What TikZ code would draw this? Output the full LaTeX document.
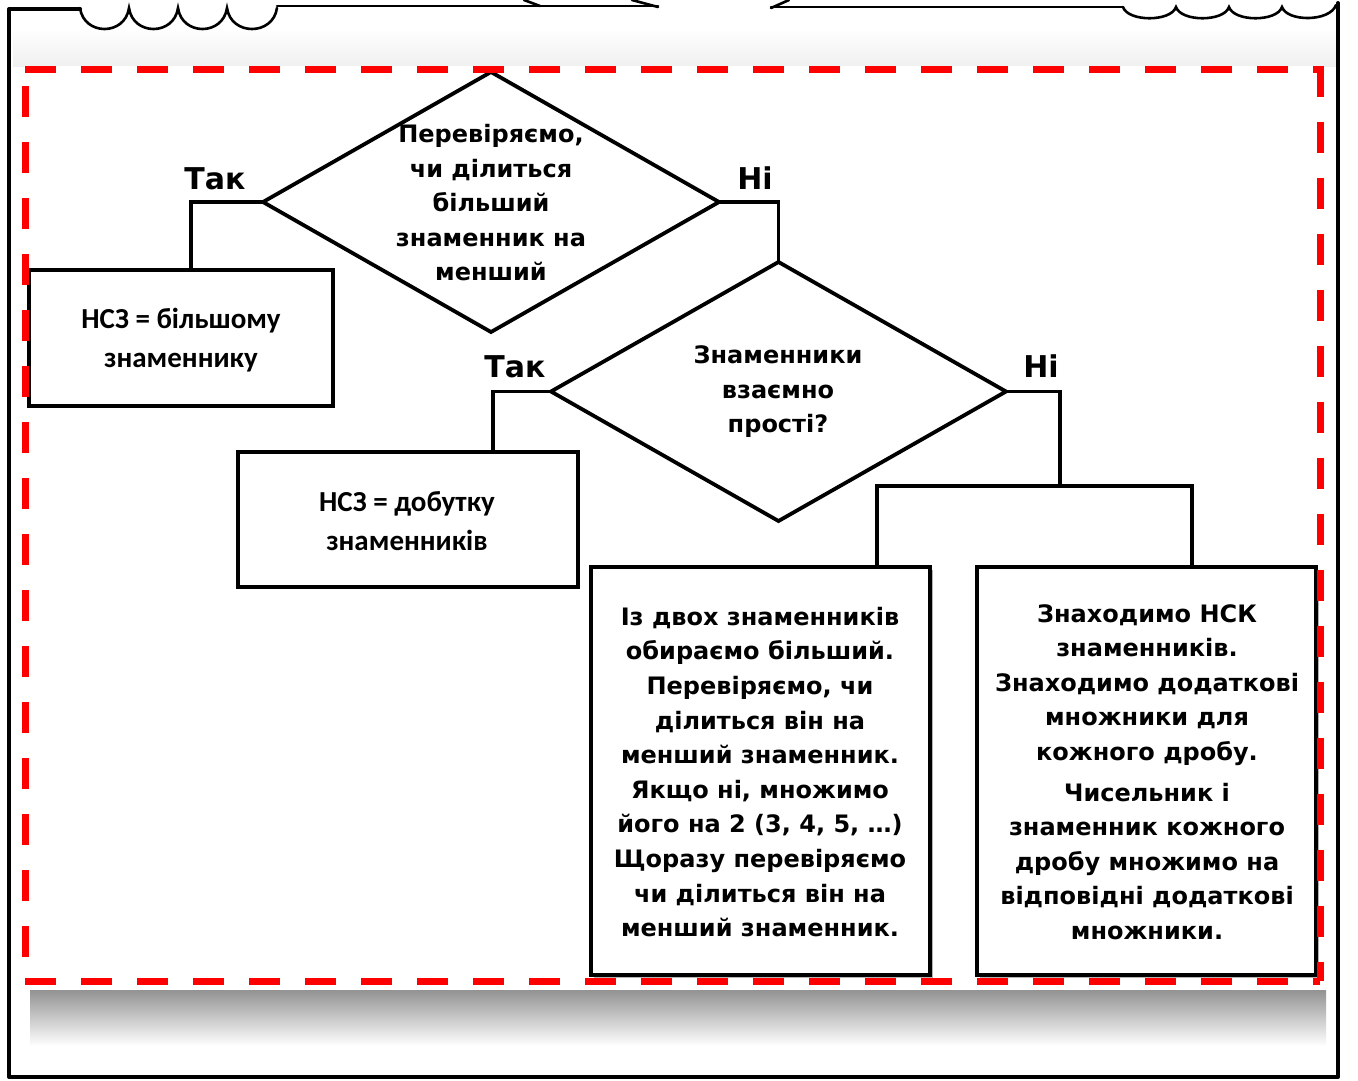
\documentclass[tikz,border=0pt]{standalone}
\usepackage{fontspec}
\setmainfont{DejaVu Sans}
\newfontfamily\carl{Carlito}
\usetikzlibrary{shapes.geometric}
\begin{document}
\begin{tikzpicture}[x=1pt,y=-1pt,
  every node/.style={inner sep=0pt, outer sep=0pt},
  conn/.style={line width=3.8pt, line join=miter},
  dia/.style={diamond, draw, line width=3.8pt, inner sep=0pt},
  dtext/.style={align=center, font=\bfseries\fontsize{24}{34.5}\selectfont},
  pbox/.style={draw, line width=3.8pt, fill=white},
  ctext/.style={align=center, font=\carl\bfseries\fontsize{29}{39.5}\selectfont},
  btext/.style={align=center, font=\bfseries\fontsize{24}{34.6}\selectfont},
  lbl/.style={anchor=base, font=\bfseries\fontsize{30}{34}\selectfont},
  frame/.style={line width=4pt, line cap=round, line join=round},
  deco/.style={line width=2.6pt, line cap=round}
]
\useasboundingbox (0,0) rectangle (1358,1080);
\fill[white] (0,0) rectangle (1358,1080);
% light top band and shadow below the panel
\shade[top color=white, bottom color=gray!12] (13,28) rectangle (1336,66);
\shade[top color=gray!85, bottom color=white] (30,990) rectangle (1326,1046);
\fill[white] (24,66) rectangle (1322,988);

% outer frame
\draw[frame] (80,9) -- (9,9) -- (9,1077) -- (1338,1077) -- (1338,3);
\draw[deco] (80,8) .. controls (84,36) and (125,36) .. (129,8)
  .. controls (133,36) and (174,36) .. (178,8)
  .. controls (182,36) and (223,36) .. (227,8)
  .. controls (231,36) and (273,36) .. (277,8);
\draw[deco] (277,6) -- (658,6);
\draw[deco] (524,0) -- (540,6);
\draw[deco] (632,0) -- (658,7);
\draw[deco] (771,8) -- (789,0);
\draw[deco] (771,7) -- (1123,7);
\draw[deco] (1123,7) .. controls (1128,22) and (1171,22) .. (1176,7)
  .. controls (1181,22) and (1224,22) .. (1229,7)
  .. controls (1234,22) and (1277,22) .. (1282,7)
  .. controls (1287,22) and (1330,22) .. (1336,5);

% decisions
\node[dia, minimum width=456pt, minimum height=260pt] (d1) at (491,202) {};
\node[dtext] (t1) at (491,203) {Перевіряємо,\\чи ділиться\\більший\\знаменник на\\менший};
\node[dia, minimum width=455pt, minimum height=259pt] (d2) at (778.5,391.5) {};
\node[dtext] (t2) at (778,392) {Знаменники\\взаємно\\прості?};

% boxes
\node[pbox, minimum width=304pt, minimum height=136pt] (b1) at (181,338) {};
\node[ctext] (bt1) at (181,340) {НСЗ = більшому\\знаменнику};
\node[pbox, minimum width=340pt, minimum height=135pt] (b2) at (408,519.5) {};
\node[ctext] (bt2) at (407,521) {НСЗ = добутку\\знаменників};

\fill[gray!60] (594,570) rectangle (933,978);
\fill[gray!60] (980,570) rectangle (1319,978);
\node[pbox, minimum width=339pt, minimum height=408pt] (b3) at (760.5,771) {};
\node[btext] (bt3) at (760,772) {Із двох знаменників\\обираємо більший.\\Перевіряємо, чи\\ділиться він на\\менший знаменник.\\Якщо ні, множимо\\його на 2 (3, 4, 5, …)\\Щоразу перевіряємо\\чи ділиться він на\\менший знаменник.};
\node[pbox, minimum width=339pt, minimum height=408pt] (b4) at (1146.5,771) {};
\node[btext] (bt4) at (1147,772) {Знаходимо НСК\\знаменників.\\Знаходимо додаткові\\множники для\\кожного дробу.\\[6pt]Чисельник і\\знаменник кожного\\дробу множимо на\\відповідні додаткові\\множники.};

% connectors
\draw[conn] (d1.west) -| ([xshift=10pt]b1.north);
\draw[conn] (d1.east) -| (d2.north);
\draw[conn] (d2.west) -| ([xshift=85pt]b2.north);
\coordinate (j) at (1060,486);
\coordinate (bl) at (877,486);
\coordinate (br) at (1192,486);
\draw[conn] (d2.east) -| (j);
\draw[conn] ([xshift=116.5pt]b3.north) -- (bl) -- (br) -- ([xshift=45.5pt]b4.north);

% labels
\node[lbl] (l1) at (215,189) {Так};
\node[lbl] (l2) at (755,189) {Ні};
\node[lbl] (l3) at (515,377) {Так};
\node[lbl] (l4) at (1041,377) {Ні};

% red dashed border
\begin{scope}[red, line width=7pt, dash pattern=on 31pt off 25pt]
\draw (25,69) -- (1320,69);
\draw (25,981) -- (1320,981);
\draw[dash phase=39pt] (25,69) -- (25,981);
\draw (1320,66) -- (1320,981);
\end{scope}
\end{tikzpicture}
\end{document}
